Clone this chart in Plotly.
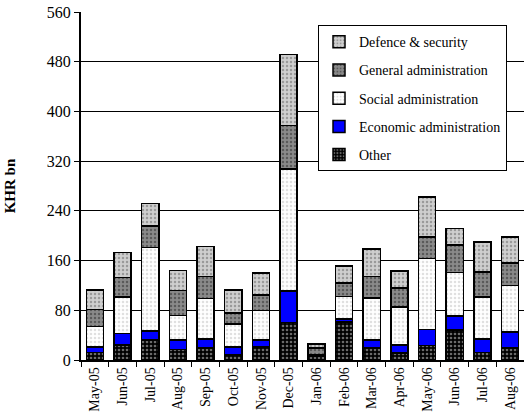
import plotly.graph_objects as go

months = ["May-05", "Jun-05", "Jul-05", "Aug-05", "Sep-05", "Oct-05", "Nov-05", "Dec-05",
          "Jan-06", "Feb-06", "Mar-06", "Apr-06", "May-06", "Jun-06", "Jul-06", "Aug-06"]

other = [12, 24, 32, 17, 19, 8, 21, 60, 6, 61, 19, 11, 23, 48, 12, 19]
economic = [9, 19, 15, 15, 15, 13, 11, 51, 1, 5, 13, 13, 26, 23, 22, 26]
social = [33, 58, 134, 40, 65, 37, 48, 196, 1, 36, 68, 61, 114, 70, 67, 75]
general = [27, 32, 35, 40, 35, 18, 25, 70, 11, 22, 34, 31, 35, 44, 41, 36]
defence = [32, 40, 36, 32, 49, 37, 35, 115, 7, 27, 45, 27, 64, 27, 48, 42]

series = [
    ("Other", other, dict(bgcolor="#000000", fgcolor="#6a6a6a", shape=".", size=4, solidity=0.35)),
    ("Economic administration", economic, None),
    ("Social administration", social, dict(bgcolor="#ffffff", fgcolor="#e0e0e0", shape=".", size=4, solidity=0.3)),
    ("General administration", general, dict(bgcolor="#8a8a8a", fgcolor="#5a5a5a", shape=".", size=4, solidity=0.3)),
    ("Defence & security", defence, dict(bgcolor="#cfcfcf", fgcolor="#9a9a9a", shape=".", size=4, solidity=0.3)),
]

fig = go.Figure()
for i, (name, vals, pat) in enumerate(series):
    marker = dict(line=dict(color="#000000", width=1.5))
    if pat is None:
        marker["color"] = "#0000ff"
    else:
        marker["color"] = pat["bgcolor"]
        marker["pattern"] = dict(fillmode="replace", **pat)
    fig.add_trace(go.Bar(x=months, y=vals, name=name, marker=marker,
                         legendgroup=str(i), legendrank=len(series) - i, width=0.62))

font_family = "Liberation Serif"
fig.update_layout(
    barmode="stack",
    width=524, height=416,
    margin=dict(l=81, r=0, t=12, b=56),
    paper_bgcolor="white", plot_bgcolor="white",
    font=dict(family=font_family, color="black", size=14),
    showlegend=True,
    legend=dict(
        x=0.535, y=0.962, xanchor="left", yanchor="top",
        traceorder="grouped", tracegroupgap=7,
        bordercolor="black", borderwidth=1, bgcolor="white",
        font=dict(family=font_family, size=14, color="black"),
        itemwidth=30,
    ),
    xaxis=dict(
        showline=True, linecolor="black", linewidth=1.5,
        ticks="outside", tickson="boundaries", ticklen=5, tickcolor="black",
        tickangle=-90, tickfont=dict(size=14),
    ),
    yaxis=dict(
        range=[0, 560], dtick=80, tick0=0,
        showline=True, linecolor="black", linewidth=2,
        showgrid=True, gridcolor="black", gridwidth=1,
        ticks="outside", ticklen=5, tickcolor="black",
        tickfont=dict(size=16), zeroline=False,
        title=dict(text="<b>KHR bn</b>", font=dict(size=15), standoff=28),
    ),
)
fig.write_html("out.html", config={"displayModeBar": False},
               post_script="document.body.style.margin='0';")
